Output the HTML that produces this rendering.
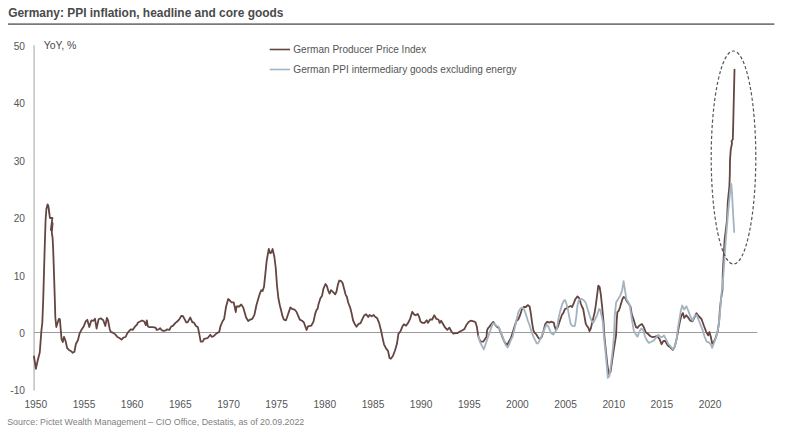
<!DOCTYPE html>
<html><head><meta charset="utf-8"><style>
html,body{margin:0;padding:0;background:#fff;width:791px;height:436px;overflow:hidden}
svg{display:block}
text{font-family:"Liberation Sans",sans-serif}
</style></head><body>
<svg width="791" height="436" viewBox="0 0 791 436">
<rect width="791" height="436" fill="#fff"/>
<text x="8.2" y="16.9" font-size="11.95" font-weight="bold" fill="#4a4a4a">Germany: PPI inflation, headline and core goods</text>
<line x1="8" y1="24.1" x2="774.4" y2="24.1" stroke="#7a7a7a" stroke-width="1.6"/>
<g font-size="10.2" fill="#555"><text x="25" y="49.9" text-anchor="end">50</text><text x="25" y="107.3" text-anchor="end">40</text><text x="25" y="164.7" text-anchor="end">30</text><text x="25" y="222.1" text-anchor="end">20</text><text x="25" y="279.5" text-anchor="end">10</text><text x="25" y="336.9" text-anchor="end">0</text><text x="25" y="394.3" text-anchor="end">-10</text></g>
<g font-size="10.2" fill="#555"><text x="35.8" y="408.3" text-anchor="middle">1950</text><text x="84.0" y="408.3" text-anchor="middle">1955</text><text x="132.1" y="408.3" text-anchor="middle">1960</text><text x="180.3" y="408.3" text-anchor="middle">1965</text><text x="228.5" y="408.3" text-anchor="middle">1970</text><text x="276.6" y="408.3" text-anchor="middle">1975</text><text x="324.8" y="408.3" text-anchor="middle">1980</text><text x="373.0" y="408.3" text-anchor="middle">1985</text><text x="421.1" y="408.3" text-anchor="middle">1990</text><text x="469.3" y="408.3" text-anchor="middle">1995</text><text x="517.4" y="408.3" text-anchor="middle">2000</text><text x="565.6" y="408.3" text-anchor="middle">2005</text><text x="613.8" y="408.3" text-anchor="middle">2010</text><text x="661.9" y="408.3" text-anchor="middle">2015</text><text x="710.1" y="408.3" text-anchor="middle">2020</text></g>
<text x="43.7" y="49" font-size="10.5" fill="#4a4a4a">YoY, %</text>
<line x1="34.1" y1="45.2" x2="34.1" y2="390.5" stroke="#c4c4c4" stroke-width="1.6"/>
<line x1="34.1" y1="332.5" x2="757.2" y2="332.5" stroke="#9b9b9b" stroke-width="1.2"/>
<line x1="269.7" y1="49.5" x2="290.1" y2="49.5" stroke="#644542" stroke-width="1.6"/>
<text x="293.3" y="53" font-size="10.05" fill="#555">German Producer Price Index</text>
<line x1="269.7" y1="69.5" x2="290.1" y2="69.5" stroke="#a0b4c4" stroke-width="1.6"/>
<text x="293.3" y="73" font-size="10.1" fill="#555">German PPI intermediary goods excluding energy</text>
<polyline points="34,356.5 35.9,368.8 37.7,360.5 39.8,352.2 41.4,330.6 42.3,323 43.2,300 44.2,265 45,238 45.6,220 46.4,209 47.6,204.3 48.4,206 49.3,214 48.8,208.5 49.9,218 52.4,218 50.8,230 52.6,223 51.8,232.5 52.6,238 53.2,250 54.3,283 55,305 55.3,317 56.3,327 58.9,318.8 59.9,319.3 61.5,338.9 62.8,342 64,336.8 65.6,341 67.2,348.2 69.2,350.2 71.3,351.3 72.8,352.8 74.4,351.8 75.9,344 78,340 79.5,333.7 81.6,329.6 83.7,326.5 85.7,321.4 87.3,319.8 89.3,327 91.4,320.3 93.5,320.8 95,318.8 96.6,328.6 98.6,319.3 100.7,318.3 103.3,320.3 105.3,326 106.9,318 108.1,320.5 109.6,328.7 110.7,331.8 113.3,332.9 115.3,334.4 117.4,337 119.4,338 121.5,339.6 123.6,337.5 125.6,337 127.2,333.4 129.3,330.8 130.8,329.3 132.9,329.8 134.9,326.7 137,324.6 138,322.5 140.1,321.5 142.2,320.5 144.2,321.5 145.8,325.1 146.8,320.5 147.8,326.2 149.4,327.2 152.5,327.2 155.6,327.7 156.6,329.8 158.7,329.3 160.2,328.2 161.8,330.3 163.8,330.8 165.9,330.3 166.9,329.3 169.5,329.8 171,326.7 173.1,325.6 175.2,323.1 177.2,321.5 179.3,319.4 181.4,315.8 183,316.2 185,319.9 186.2,322.4 187.6,322.4 190.3,317.5 192.4,322.4 193.8,322.4 195.8,325.8 197.9,327.2 199.3,334.1 200.7,341.6 202.7,341.6 204.1,338.9 207.5,338.2 210.3,334.8 211.7,336.8 213.7,336.1 216.5,333.4 219.2,332 220.6,325.8 222.7,321 224.1,318.9 226.1,306.5 228.2,299 230.3,301 231.6,302.4 233.7,302.4 235.8,312 236.5,306.5 239.2,306.5 241.3,304.5 243.4,307.9 246.1,317.5 248.2,321 250.2,319.6 252.3,318.9 254.4,314.8 255,312 256.4,305.2 258.4,298.3 259.8,293.7 261.2,290.3 262.6,291 264,286.8 265.3,274.4 266.7,260.7 268.8,249 270.2,253.1 271.5,252.4 272.6,249 274.3,256.5 275.7,267.5 277,285.5 278.4,298.3 279.8,305.2 281.2,310.7 282.5,316.2 283.9,319.6 286,320.3 288,314.5 290.4,307.4 292,308.8 294.5,309.6 296.3,311.5 298.3,316.1 299.8,319.6 302,320.7 303.9,322.5 306.6,330 308,326.3 311.2,325.7 313.5,321.6 315.3,313.3 316.7,309.7 317.6,308.8 318.5,304.2 320.4,298.3 322.1,295.7 323.4,288.8 325.5,284 326.9,286 328.3,290.8 329.6,293.6 331,290.2 333.1,292.2 335.2,294.3 336.5,291.5 337.9,284.6 339.3,280.5 341.3,281.2 342.7,283.3 344.1,288.8 345.5,294.3 346.9,297 348.2,302.5 350.3,308 351.7,313.6 353.1,320.5 355.1,324.6 356.5,326.7 358.6,323.9 360.6,323.2 362,319.8 364.1,315.6 366.1,314.3 368.2,317 369.6,315 371.7,316.3 373.7,315 375,316.7 377.1,318.1 379.1,322.9 381.2,331.2 382.6,338.1 384,344.3 386,348.4 388.1,351.1 389.5,358 390.8,358.7 392.9,356 395,350.5 397,343.6 398.4,333.9 400.5,331.2 402.5,326.3 403.9,324.3 406,325.7 408.1,322.9 410.1,318.8 412.2,311.9 414.3,314.6 415.6,315.3 417.7,314 419.1,316.7 420.5,321.5 422.5,322.9 424.6,322.9 426.7,320.2 428,322.9 430.1,319.5 432.2,319.5 434.2,315.3 436.3,318.8 438.4,319.5 439.7,322.9 441.1,320.8 443.2,324.3 445.2,327.7 447.3,329.8 449.4,327.7 451.4,331.5 453.4,333.7 455.5,333.1 457.6,333.1 459.6,331.7 462.4,330.3 464.5,328.9 466.5,324.8 468.6,322 470.7,320.7 473.7,321.4 475.5,322.3 476.9,326.9 477.8,333.3 478.7,337.9 480.6,341.6 483.3,341.6 485.1,338.9 486.5,337 487,330.6 487.9,328.3 489.3,326.9 491.6,323.7 493.4,321.9 494.3,323.7 496.6,326.5 498.9,328 501,333.1 503,338.6 505.1,343 507.5,344.8 508.8,341.7 510.7,338.5 512.6,332.9 514.5,326.5 516.4,320.9 518.2,319.6 520.1,315.2 522,308.9 523.9,307 525.8,307 527.7,305.1 529.6,306.4 530.9,313.9 532.1,322.8 533.4,330.3 534.7,332.9 536.5,334.7 538.4,337.9 539.9,339.2 541.8,336.7 542.9,333.2 545.2,324.1 547.3,321.7 549.2,322.6 551,321.7 553.8,322.6 554.7,326.7 556,330 557.9,326.7 559.7,321.2 562,314.8 563.4,312.9 564.8,309.3 566.6,308.3 568.4,307 570.7,306 572.1,307 573.9,302.8 575.3,299.2 577.5,296.4 579.4,298.3 580.7,303.3 581.9,306.5 583.2,309 584.5,316.6 585.7,323.5 587,326.1 588.2,327.3 589.5,331.1 590.8,328.6 592.7,320.4 594.6,312.8 595.8,305.2 597.1,295.1 598.3,285.7 599.6,286.9 600.9,295.1 602.1,306.5 603.4,320.4 604.3,335 606,352 607.5,366 608.8,374 610.5,372 612.5,358 614.5,345 616.1,335 616.7,320.4 617.4,312.1 618.8,310.7 620.2,306.6 622.2,299.7 623.6,297 625,297.7 626.4,300.4 628.4,303.2 630.5,306.6 631.9,314.9 633.9,320.4 636,327.2 637.4,327.9 639.4,325.5 641.9,324 643.8,327.1 645.7,332.2 647.6,333.5 650.1,336 652.6,337.2 655.1,336.6 657,336 659.6,339.1 661.5,344.2 663.4,341 665.2,341 667.8,345.5 670.3,347.3 672.8,349.9 674.7,346.7 676.6,339.1 678,331.6 678.7,327.5 680.1,320.7 681.5,315.2 682.9,313.1 684.2,317.9 686.3,315.2 688.4,317.9 690.4,320.7 692.5,321.3 694.6,317.2 696.5,313.2 699,316.5 701.5,319 703.9,325.8 706,331.3 708.1,335.4 709.4,332 710.8,336.8 712.2,343.6 713.6,342.3 715.6,338.1 717.7,331.3 719.1,321.6 719.8,310.6 721.1,298.3 722.5,290 722.7,275 724.6,240 727,220 727.8,202.1 729.4,186 729.8,175 730,160 730.8,149.1 732,143.5 731.6,141 732.8,139.5 733.2,125 734.5,69.6" fill="none" stroke="#644542" stroke-width="1.8" stroke-linejoin="round" stroke-linecap="round"/>
<polyline points="478.3,336.1 480,342 483.8,349.4 486,343 488.3,336.1 490.5,330 492.9,323.3 494.3,323.3 496.6,326 498.4,326.5 500.3,330.6 503,337.9 505.8,345.3 507.6,347.5 509.4,344 510.7,340.4 512.6,336.6 514.5,329.1 516.4,320.2 518.2,312.7 520.1,308.9 522,307.6 523.9,308.9 525.8,313.9 527.7,320.2 529.6,325.3 531.5,331.6 533.4,336.6 535.3,340.4 536.5,343 537.8,343.6 539.7,340.4 541.8,335.5 544.7,328.7 546.4,324.6 547.6,325.5 548.3,326.7 551.2,333.2 553.2,334.6 555.3,331.8 557,328 558.3,319.4 560.2,311.1 562,304.7 563.9,300.6 565.2,300.1 566.1,302.8 567.5,307.4 568.4,312 569.4,317.5 570.7,323.9 572.1,325.8 573.9,326.2 575,325.4 576.3,316.6 577.5,305.2 578.8,300.2 581.3,298.9 583.8,300.2 585.7,302.7 587.6,309 589.5,315.3 591.4,320.4 593.3,322.9 595.2,319.1 597.1,315.3 599,309 600.2,309.7 601.5,315.3 602.8,321.6 603.8,335 605.5,352 607,368 607.8,378 609.5,376 611.3,362 613,347 614,335 614.7,316.2 616.1,302.5 618.1,299.1 620.2,295.6 622.2,290.1 623.6,281.2 625,290.1 626.4,299.1 628.4,302.5 629.9,306 631.8,318.9 633.7,330.3 635.6,334.1 637.5,336.6 639.4,331.6 641.3,328.4 643.2,330.3 645,336.6 646.9,340.4 648.8,342.9 651.4,341.7 653.9,340.4 656.4,337.2 658.3,334.7 660.2,336.6 662.1,337.2 664,335.4 665.9,339.1 668.4,344.2 670.9,346.7 672.8,349.2 674.7,346.7 676.6,339.1 678,327.5 679.4,319.3 680.8,311 682.2,305.5 684.2,309.6 686.3,306.2 688.4,311 690.4,316.5 692.5,320.7 694.6,315.8 696.6,315 699.8,323 702.6,329.9 704.6,336.8 706.7,341.6 708.8,342.3 710.8,344.3 712.2,347.8 714.3,342.3 716.3,336.8 718.4,327.1 719.8,314.8 721.1,298.3 723.4,275 725.8,240 728.3,210.1 730.6,187.6 731.3,184 732.1,194 732.9,210.1 734.2,232" fill="none" stroke="#a3b3c0" stroke-width="1.8" stroke-linejoin="round" stroke-linecap="round"/>
<ellipse cx="733.5" cy="157.5" rx="22.3" ry="106.5" fill="none" stroke="#555" stroke-width="1.2" stroke-dasharray="3.2 2.2"/>
<text x="7.2" y="424.9" font-size="8.84" fill="#808080">Source: Pictet Wealth Management – CIO Office, Destatis, as of 20.09.2022</text>
</svg>
</body></html>
